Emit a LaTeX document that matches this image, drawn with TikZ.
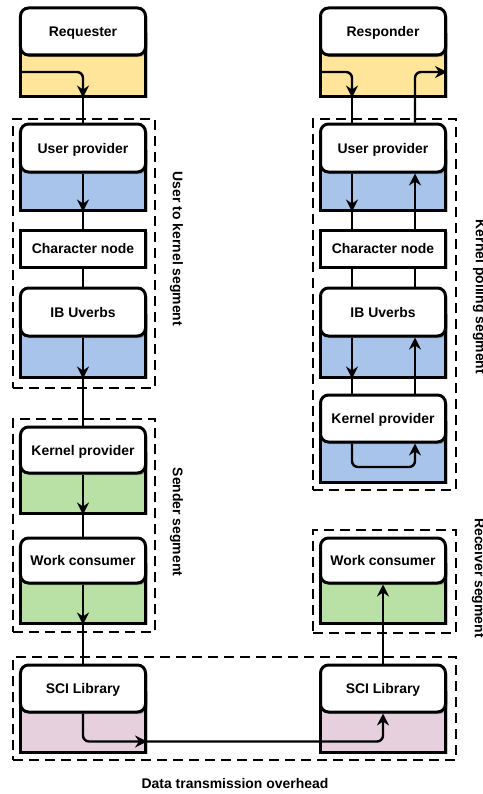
\documentclass[tikz,border=0pt]{standalone}
\usepackage{fontspec}
\setmainfont{Liberation Sans}
\usetikzlibrary{arrows.meta,shadows,calc}

\definecolor{trayYellow}{HTML}{FFE599}
\definecolor{trayBlue}{HTML}{A9C4EB}
\definecolor{trayGreen}{HTML}{B9E0A5}
\definecolor{trayPink}{HTML}{E6D0DE}

\tikzset{
  lbl/.style={font=\fontsize{14}{16}\selectfont\bfseries, inner sep=0pt},
  softshadow/.style={drop shadow={shadow xshift=2bp, shadow yshift=-2bp, opacity=0.22, fill=black}},
  card/.style={lbl, text height=10bp, text depth=0bp, draw, line width=3bp, rounded corners=8bp, fill=white,
    minimum width=125bp, minimum height=47bp, softshadow},
  plaincard/.style={card, rounded corners=0pt},
  tray/.style={draw, line width=3bp, fill=#1, minimum width=125bp, inner sep=0pt, softshadow},
  segbox/.style={draw, line width=2.8bp, dash pattern=on 10bp off 6bp, inner sep=0pt},
  wire/.style={line width=2.4bp, rounded corners=6bp},
  flow/.style={wire, -{Stealth[length=12bp, width=12bp, inset=4bp]}},
}

\begin{document}
\begin{tikzpicture}[x=1bp, y=-1bp]
\useasboundingbox (0,0) rectangle (483,794);

% dashed segment frames
\node[segbox, minimum width=142bp, minimum height=269bp] (seg1) at (84,253.5) {};
\node[segbox, minimum width=143bp, minimum height=371bp] (seg2) at (384.5,304.5) {};
\node[segbox, minimum width=142bp, minimum height=213bp] (seg3) at (84,525.5) {};
\node[segbox, minimum width=143bp, minimum height=103bp] (seg4) at (384.5,581.5) {};
\node[segbox, minimum width=443bp, minimum height=103bp] (seg5) at (234.5,708.5) {};

% segment captions
\node[lbl, rotate=-90] (lab1) at (176.5,249) {User to kernel segment};
\node[lbl, rotate=-90] (lab2) at (479.5,297) {Kernel polling segment};
\node[lbl, rotate=-90] (lab3) at (176.5,522) {Sender segment};
\node[lbl, rotate=-90] (lab4) at (478.5,578) {Receiver segment};
\node[lbl] (lab5) at (235,784) {Data transmission overhead};

% ---- sending side ----
\node[tray=trayYellow, minimum height=64.5bp] (reqc) at (83,63.75) {};
\node[card] (req) at (83,31.5) {Requester};

\node[tray=trayBlue, minimum height=62bp] (up1c) at (83,179) {};
\node[card, minimum height=48bp] (up1) at (83,148) {User provider};

\node[plaincard, minimum height=37bp] (cn1) at (83,248.5) {Character node};

\node[tray=trayBlue, minimum height=65bp] (ib1c) at (83,344.5) {};
\node[card, minimum height=48bp] (ib1) at (83,312) {IB Uverbs};

\node[tray=trayGreen, minimum height=63bp] (kp1c) at (83,481.5) {};
\node[card, minimum height=46bp] (kp1) at (83,450) {Kernel provider};

\node[tray=trayGreen, minimum height=62.5bp] (wc1c) at (83,591.75) {};
\node[card, minimum height=45bp] (wc1) at (83,560.5) {Work consumer};

\node[tray=trayPink, minimum height=63.5bp] (sci1c) at (83,720.25) {};
\node[card] (sci1) at (83,688.5) {SCI Library};

% ---- receiving side ----
\node[tray=trayYellow, minimum height=64.5bp] (respc) at (383,63.75) {};
\node[card] (resp) at (383,31.5) {Responder};

\node[tray=trayBlue, minimum height=62bp] (up2c) at (383,179) {};
\node[card, minimum height=48bp] (up2) at (383,148) {User provider};

\node[plaincard, minimum height=37bp] (cn2) at (383,248.5) {Character node};

\node[tray=trayBlue, minimum height=65bp] (ib2c) at (383,344.5) {};
\node[card, minimum height=48bp] (ib2) at (383,312) {IB Uverbs};

\node[tray=trayBlue, minimum height=63.5bp] (kp2c) at (383,450.25) {};
\node[card] (kp2) at (383,418.5) {Kernel provider};

\node[tray=trayGreen, minimum height=62.5bp] (wc2c) at (383,591.75) {};
\node[card, minimum height=45bp] (wc2) at (383,560.5) {Work consumer};

\node[tray=trayPink, minimum height=63.5bp] (sci2c) at (383,720.25) {};
\node[card] (sci2) at (383,688.5) {SCI Library};

% ---- sending path ----
\coordinate (reqin) at (19.5,72);
\draw[flow] (reqin) -| (reqc.south);
\draw[wire] (reqc.south) -- (up1.north);
\draw[flow] (up1.south) -- (up1c.south);
\draw[wire] (up1c.south) -- (cn1.north);
\draw[wire] (cn1.south) -- (ib1.north);
\draw[flow] (ib1.south) -- (ib1c.south);
\draw[wire] (ib1c.south) -- (kp1.north);
\draw[flow] (kp1.south) -- (kp1c.south);
\draw[wire] (kp1c.south) -- (wc1.north);
\draw[flow] (wc1.south) -- (wc1c.south);
\draw[wire] (wc1c.south) -- (sci1.north);

% transfer between the two SCI libraries
\coordinate (bus) at ($(sci1c.south east)+(0,-12)$);
\draw[flow] (sci1.south) |- (bus);
\draw[flow] (bus) -| (sci2.south);
\draw[flow] (sci2.north) -- (wc2.south);

% ---- polling path on the responder ----
\coordinate (dn) at (352,0);
\coordinate (upx) at (415,0);
\coordinate (respin) at (320.5,72);
\coordinate (loopy) at (0,467);

\draw[flow] (respin) -| (dn |- respc.south);
\draw[wire] (dn |- respc.south) -- (dn |- up2.north);
\draw[flow] (dn |- up2.south) -- (dn |- up2c.south);
\draw[wire] (dn |- up2c.south) -- (dn |- cn2.north);
\draw[wire] (dn |- cn2.south) -- (dn |- ib2.north);
\draw[flow] (dn |- ib2.south) -- (dn |- ib2c.south);
\draw[wire] (dn |- ib2c.south) -- (dn |- kp2.north);
\draw[flow] (dn |- kp2.south) -- (dn |- loopy) -| (upx |- kp2.south);

\draw[wire] (upx |- kp2.north) -- (upx |- ib2c.south);
\draw[flow] (upx |- ib2c.south) -- (upx |- ib2.south);
\draw[wire] (upx |- ib2.north) -- (upx |- cn2.south);
\draw[wire] (upx |- cn2.north) -- (upx |- up2c.south);
\draw[flow] (upx |- up2c.south) -- (upx |- up2.south);
\draw[flow] (upx |- up2.north) |- (respc.east |- respin);
\end{tikzpicture}
\end{document}
